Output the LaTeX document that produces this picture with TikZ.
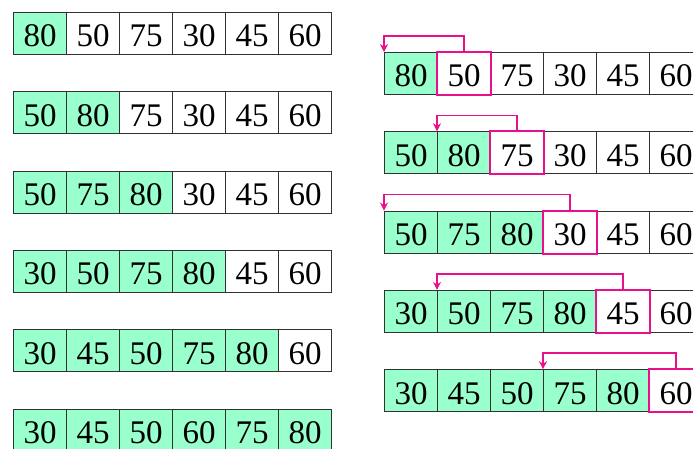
\documentclass[tikz,border=0pt]{standalone}
\usepackage{fontspec}
\setmainfont{Liberation Serif}
\usetikzlibrary{arrows.meta}
\definecolor{mint}{RGB}{153,255,204}
\definecolor{hotpink}{RGB}{232,16,140}
\definecolor{cellline}{RGB}{50,50,50}
\tikzset{
  cell/.style={draw=cellline, line width=1pt, rectangle, inner sep=0pt,
    minimum width=53pt, minimum height=42pt, text height=27pt, text depth=0pt,
    font=\fontsize{33}{33}\selectfont, anchor=north west},
  done/.style={fill=mint},
  keycell/.style={draw=hotpink, line width=2pt},
  movearrow/.style={draw=hotpink, line width=1.5pt, -{Stealth[length=8pt,width=8pt]}}
}
\begin{document}
\begin{tikzpicture}[x=1pt,y=-1pt]
\useasboundingbox (0,0) rectangle (693,449);
\clip (0,0) rectangle (693,449);
% left column
\foreach \row/\vals in {0/{80,50,75,30,45,60},1/{50,80,75,30,45,60},2/{50,75,80,30,45,60},3/{30,50,75,80,45,60},4/{30,45,50,75,80,60},5/{30,45,50,60,75,80}}{
  \foreach \v [count=\j from 0] in \vals {
    \ifnum\j>\row
      \node[cell] (L-\row-\j) at ({13+53*\j},{12+79.3*\row}) {\v};
    \else
      \node[cell,done] (L-\row-\j) at ({13+53*\j},{12+79.3*\row}) {\v};
    \fi
  }
}
% right column
\foreach \row/\vals in {0/{80,50,75,30,45,60},1/{50,80,75,30,45,60},2/{50,75,80,30,45,60},3/{30,50,75,80,45,60},4/{30,45,50,75,80,60}}{
  \foreach \v [count=\j from 0] in \vals {
    \ifnum\j>\row
      \node[cell] (R-\row-\j) at ({384+53*\j},{52+79.3*\row}) {\v};
    \else
      \node[cell,done] (R-\row-\j) at ({384+53*\j},{52+79.3*\row}) {\v};
    \fi
  }
}
% key cells
\foreach \row in {0,...,4}{
  \pgfmathtruncatemacro{\k}{\row+1}
  \draw[keycell] (R-\row-\k.north west) rectangle (R-\row-\k.south east);
}
% arrows
\foreach \row/\t in {0/0,1/1,2/0,3/1,4/3}{
  \pgfmathtruncatemacro{\k}{\row+1}
  \draw[movearrow] (R-\row-\k.north) -- ++(0,-16) -| (R-\row-\t.north west);
}
\end{tikzpicture}
\end{document}
